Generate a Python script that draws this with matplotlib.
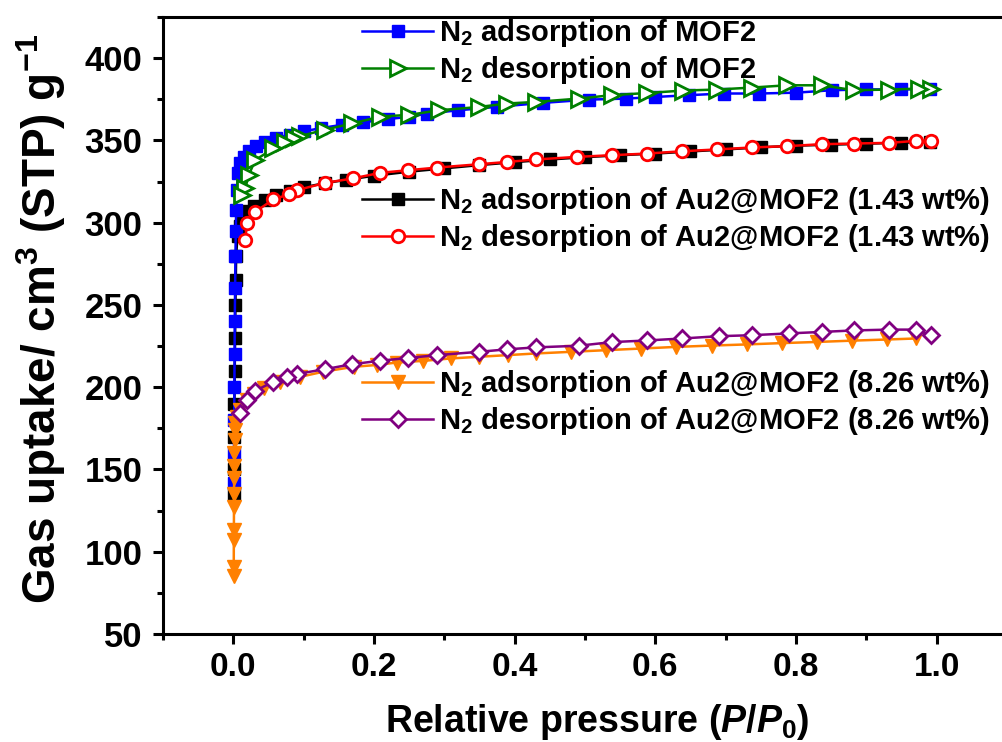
"""
N2 sorption isotherms of MOF2 and the two Au2@MOF2 samples
"""

import matplotlib
matplotlib.use("Agg")
import matplotlib.pyplot as plt
from matplotlib.ticker import MultipleLocator

plt.rcParams["font.family"] = ["Liberation Sans", "DejaVu Sans"]
plt.rcParams["font.weight"] = "bold"
plt.rcParams["axes.labelweight"] = "bold"
plt.rcParams["mathtext.fontset"] = "custom"
plt.rcParams["mathtext.rm"] = "Liberation Sans:bold"
plt.rcParams["mathtext.bf"] = "Liberation Sans:bold"
plt.rcParams["mathtext.it"] = "Liberation Sans:italic:bold"

# MOF2 adsorption (blue squares)
mof_ads_x = [0.0008, 0.001, 0.0012, 0.0015, 0.0018, 0.002, 0.0025, 0.003, 0.0035, 0.004,
             0.005, 0.007, 0.01, 0.015, 0.022, 0.032, 0.045, 0.06, 0.08, 0.1, 0.125,
             0.155, 0.185, 0.22, 0.25, 0.275, 0.32, 0.375, 0.44, 0.505, 0.558, 0.6,
             0.648, 0.697, 0.747, 0.8, 0.851, 0.9, 0.949, 0.99]
mof_ads_y = [142, 160, 180, 200, 220, 240, 260, 280, 295, 308,
             320, 330, 336, 340, 343.5, 346.5, 349, 351.5, 353.5, 355.5, 357.5,
             359.5, 361, 363, 364.3, 366.3, 368.3, 370.4, 372.8, 374.8, 375.4, 376.4,
             377.5, 378.5, 378.5, 379, 380.5, 381, 381, 381]

# MOF2 desorption (green open triangles)
mof_des_x = [0.992, 0.975, 0.932, 0.882, 0.837, 0.787, 0.737, 0.687, 0.640, 0.588,
             0.538, 0.491, 0.430, 0.389, 0.349, 0.292, 0.25, 0.209, 0.169, 0.131,
             0.095, 0.086, 0.074, 0.057, 0.031, 0.022, 0.017, 0.012]
mof_des_y = [381.5, 381.5, 380.9, 380.5, 383.5, 383.5, 382.1, 380.9, 380.3, 378.8,
             377.5, 375.4, 373.4, 372.4, 370.3, 368.3, 365.5, 364.5, 360.3, 356.6,
             352.6, 351.2, 349.1, 345.1, 338, 328.9, 321, 316.7]

# Au2@MOF2 (1.43 wt%) adsorption (black squares)
au1_ads_x = [0.0008, 0.001, 0.0013, 0.0016, 0.002, 0.0025, 0.003, 0.0035, 0.004, 0.006,
             0.009, 0.013, 0.02, 0.03, 0.045, 0.06, 0.08, 0.1, 0.13, 0.16, 0.2,
             0.25, 0.3, 0.35, 0.4, 0.45, 0.5, 0.55, 0.6, 0.65, 0.7, 0.75, 0.8,
             0.85, 0.9, 0.95, 0.99]
au1_ads_y = [135, 150, 170, 190, 210, 230, 250, 265, 280, 292,
             298, 303, 307, 310, 314, 317, 319.5, 321.5, 324, 326, 328.5,
             331, 333, 335, 336.8, 338.4, 339.8, 341, 342, 343.3, 344.5, 345.8, 346.8,
             347.4, 348, 348.6, 349]

# Au2@MOF2 (1.43 wt%) desorption (red open circles)
au1_des_x = [0.992, 0.970, 0.932, 0.882, 0.837, 0.787, 0.737, 0.687, 0.638, 0.588,
             0.538, 0.489, 0.430, 0.389, 0.349, 0.290, 0.249, 0.209, 0.170, 0.131,
             0.090, 0.079, 0.057, 0.031, 0.019, 0.017]
au1_des_y = [349.7, 349.7, 348.5, 348.1, 347.7, 346.5, 345.7, 344.5, 343.4, 342,
             341, 340, 338.4, 336.9, 335.5, 333.5, 331.9, 330.3, 326.9, 324.2,
             319.7, 317.3, 314.1, 306.6, 299.5, 289.4]

# Au2@MOF2 (8.26 wt%) adsorption (orange triangles)
au8_ads_x = [0.0005, 0.0006, 0.0007, 0.0008, 0.0009, 0.001, 0.0012, 0.0014, 0.0016, 0.0018,
             0.002, 0.003, 0.005, 0.01, 0.019, 0.03, 0.043, 0.067, 0.095, 0.128,
             0.171, 0.204, 0.232, 0.27, 0.31, 0.35, 0.39, 0.43, 0.48, 0.53, 0.58,
             0.63, 0.68, 0.73, 0.78, 0.83, 0.88, 0.93, 0.97]
au8_ads_y = [85, 91, 107, 113, 127, 135, 145, 152, 160, 168,
             174, 178, 182, 186, 192, 196, 199.5, 203.3, 206.3, 209.4,
             212.4, 213.5, 215, 216, 217.5, 218.5, 219.5, 220.5, 221.5, 222.5, 223.5,
             224.5, 225.3, 226, 226.8, 227.5, 228.3, 229, 229.6]

# Au2@MOF2 (8.26 wt%) desorption (purple open diamonds)
au8_des_x = [0.992, 0.970, 0.932, 0.882, 0.837, 0.790, 0.737, 0.690, 0.638, 0.588,
             0.538, 0.491, 0.430, 0.389, 0.349, 0.290, 0.249, 0.209, 0.169, 0.131,
             0.090, 0.076, 0.057, 0.031, 0.019, 0.010]
au8_des_y = [231.5, 235, 235, 234.5, 233.6, 232.7, 231.6, 231, 229.6, 228.4,
             227.4, 225.2, 224.2, 223, 221.5, 219.5, 217.8, 216.1, 214, 211,
             208, 206, 203.3, 197.8, 192.2, 184.1]

labels = [r"N$_2$ adsorption of MOF2",
          r"N$_2$ desorption of MOF2",
          r"N$_2$ adsorption of Au2@MOF2 (1.43 wt%)",
          r"N$_2$ desorption of Au2@MOF2 (1.43 wt%)",
          r"N$_2$ adsorption of Au2@MOF2 (8.26 wt%)",
          r"N$_2$ desorption of Au2@MOF2 (8.26 wt%)"]

fig = plt.figure(figsize=(10.03, 7.42), dpi=100)
ax = fig.add_axes([163 / 1003, 108 / 742, 844 / 1003, 617 / 742])

lw = 1.8
l_k, = ax.plot(au1_ads_x, au1_ads_y, color="black", lw=lw, marker="s", ms=8, label=labels[2])
l_b, = ax.plot(mof_ads_x, mof_ads_y, color="#0000ff", lw=lw, marker="s", ms=8, label=labels[0])
l_g, = ax.plot(mof_des_x, mof_des_y, color="#008000", lw=lw, marker=">", ms=11,
               mfc="white", mew=2, label=labels[1])
l_r, = ax.plot(au1_des_x, au1_des_y, color="#ff0000", lw=lw, marker="o", ms=9,
               mfc="white", mew=2, label=labels[3])
l_o, = ax.plot(au8_ads_x, au8_ads_y, color="#ff8000", lw=lw, marker="v", ms=10, label=labels[4])
l_p, = ax.plot(au8_des_x, au8_des_y, color="#800080", lw=lw, marker="D", ms=8.5,
               mfc="white", mew=2, label=labels[5])

ax.set_xlim(-0.1, 1.1)
ax.set_ylim(50, 425)
ax.xaxis.set_major_locator(MultipleLocator(0.2))
ax.xaxis.set_minor_locator(MultipleLocator(0.1))
ax.yaxis.set_major_locator(MultipleLocator(50))
ax.yaxis.set_minor_locator(MultipleLocator(25))
ax.set_xticks([0.0, 0.2, 0.4, 0.6, 0.8, 1.0])
ax.set_xticklabels(["0.0", "0.2", "0.4", "0.6", "0.8", "1.0"])
ax.tick_params(which="major", direction="out", length=7, width=2.2, pad=6)
ax.tick_params(axis="x", labelsize=24)
ax.tick_params(axis="y", labelsize=25, pad=8)
ax.tick_params(which="minor", direction="out", length=4.5, width=2.2)
ax.tick_params(top=False, right=False)
for s in ax.spines.values():
    s.set_linewidth(2.2)

ax.set_xlabel(r"Relative pressure ($P/P_{\mathit{0}}$)", fontsize=27)
ax.set_ylabel(r"Gas uptake/ cm$^3$ (STP) g$^{-1}$", fontsize=33)
ax.xaxis.set_label_coords(0.514, -0.11)
ax.yaxis.set_label_coords(-0.112, 0.51)

leg_kw = dict(loc="upper left", frameon=False, fontsize=21, handlelength=2.45,
              handletextpad=0.2, labelspacing=0.17, borderpad=0, borderaxespad=0,
              bbox_transform=fig.transFigure)
leg1 = ax.legend([l_b, l_g], labels[:2], bbox_to_anchor=(362 / 1003, 1 - 17 / 742), **leg_kw)
ax.add_artist(leg1)
leg2 = ax.legend([l_k, l_r], labels[2:4], bbox_to_anchor=(362 / 1003, 1 - 185 / 742), **leg_kw)
ax.add_artist(leg2)
ax.legend([l_o, l_p], labels[4:], bbox_to_anchor=(362 / 1003, 1 - 368 / 742), **leg_kw)

fig.savefig("out.png", dpi=100)
